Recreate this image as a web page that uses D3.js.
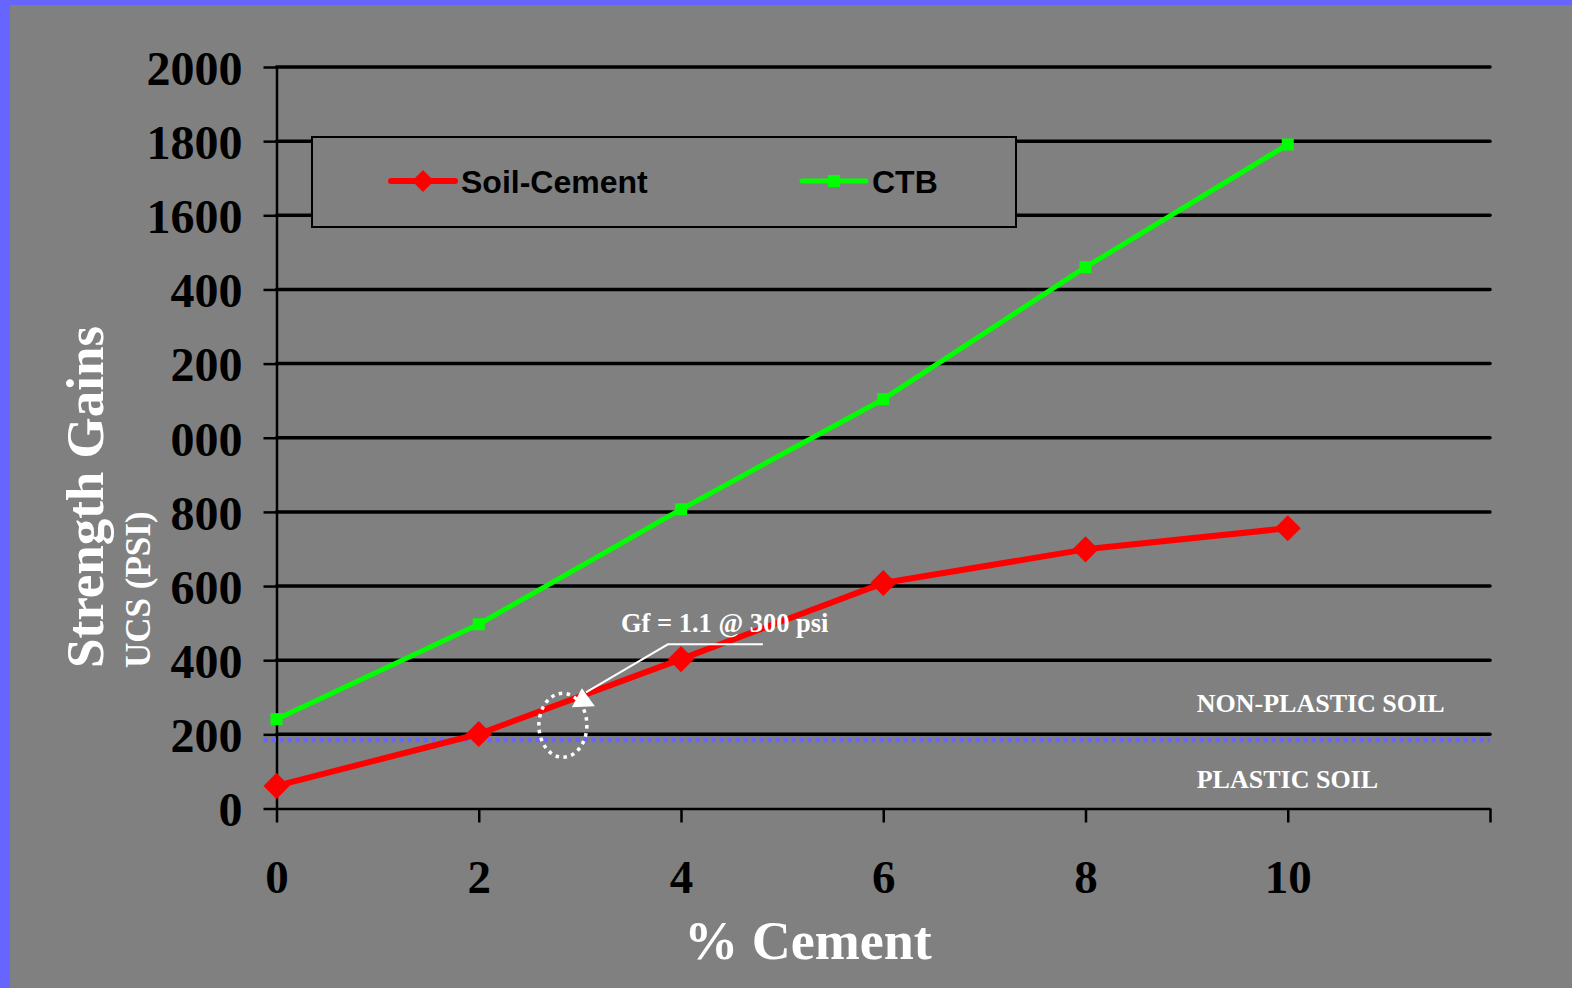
<!DOCTYPE html>
<html>
<head>
<meta charset="utf-8">
<script src="https://cdn.jsdelivr.net/npm/d3@7"></script>
<style>
  html, body { margin: 0; padding: 0; background: #808080; }
  svg { display: block; }
</style>
</head>
<body>
<svg id="chart" width="1572" height="988"></svg>
<script>
// Cement content (%) at which specimens were tested
const cementPct = [0, 2, 4, 6, 8, 10];
// Unconfined compressive strength gains (psi)
const soilCement = [61, 201, 403, 608, 699, 756];
const ctb = [241, 497, 807, 1104, 1460, 1791];

// Axis ticks and the labels printed beside them
const xTicks = [0, 2, 4, 6, 8, 10, 12];
const xTickLabels = ["0", "2", "4", "6", "8", "10", ""];
const yTicks = [0, 200, 400, 600, 800, 1000, 1200, 1400, 1600, 1800, 2000];
const yTickLabels = ["0", "200", "400", "600", "800", "000", "200", "400", "1600", "1800", "2000"];

// Plastic / non-plastic boundary (psi) and the annotated design point
const plasticLimit = 185;
const gfPoint = { x: 3, y: 300, label: "Gf = 1.1 @ 300 psi" };

const svg = d3.select("#chart");
const W = 1572, H = 988;

// Background and the blue frame along the left and top edges
svg.append("rect").attr("width", W).attr("height", H).attr("fill", "#808080");
svg.append("rect").attr("x", 0).attr("y", 0).attr("width", 10).attr("height", H).attr("fill", "#6666ff");
svg.append("rect").attr("x", 0).attr("y", 0).attr("width", W).attr("height", 5).attr("fill", "#6666ff");

const x = d3.scaleLinear().domain([0, 12]).range([276.5, 1490]);
const y = d3.scaleLinear().domain([0, 2000]).range([808.5, 67]);

const serif = "'Liberation Serif', 'Times New Roman', serif";
const sans = "'Liberation Sans', Arial, sans-serif";

// Horizontal gridlines
svg.append("g")
  .selectAll("line")
  .data(yTicks.filter(d => d > 0))
  .join("line")
  .attr("x1", x(0)).attr("x2", x(12))
  .attr("y1", d => y(d)).attr("y2", d => y(d))
  .attr("stroke", "#000").attr("stroke-width", 3.5).attr("stroke-linecap", "round");

// Y axis
const yAxis = svg.append("g")
  .attr("transform", `translate(${x(0)},0)`)
  .call(d3.axisLeft(y).tickValues(yTicks)
    .tickFormat((d, i) => yTickLabels[i])
    .tickSize(13).tickSizeOuter(0).tickPadding(21));
yAxis.select(".domain").attr("stroke", "#000").attr("stroke-width", 2.5);
yAxis.selectAll(".tick line").attr("stroke", "#000").attr("stroke-width", 2.5);
yAxis.selectAll(".tick text")
  .attr("fill", "#000").attr("font-family", serif).attr("font-weight", "bold")
  .attr("font-size", 48).attr("dy", "0.36em");

// X axis
const xAxis = svg.append("g")
  .attr("transform", `translate(0,${y(0)})`)
  .call(d3.axisBottom(x).tickValues(xTicks)
    .tickFormat((d, i) => xTickLabels[i])
    .tickSize(14).tickSizeOuter(0).tickPadding(37));
xAxis.select(".domain").attr("stroke", "#000").attr("stroke-width", 2.5);
xAxis.selectAll(".tick line").attr("stroke", "#000").attr("stroke-width", 2.5);
xAxis.selectAll(".tick text")
  .attr("fill", "#000").attr("font-family", serif).attr("font-weight", "bold")
  .attr("font-size", 47);

// Plastic soil boundary
svg.append("line")
  .attr("x1", x(0) - 13).attr("x2", x(12))
  .attr("y1", y(plasticLimit)).attr("y2", y(plasticLimit))
  .attr("stroke", "#6666ff").attr("stroke-width", 4.5).attr("stroke-dasharray", "4.5 3.5");

svg.append("text")
  .attr("x", x(9.1)).attr("y", y(plasticLimit) - 28)
  .attr("fill", "#fff").attr("font-family", serif).attr("font-weight", "bold")
  .attr("font-size", 26).text("NON-PLASTIC SOIL");
svg.append("text")
  .attr("x", x(9.1)).attr("y", y(plasticLimit) + 48)
  .attr("fill", "#fff").attr("font-family", serif).attr("font-weight", "bold")
  .attr("font-size", 26).text("PLASTIC SOIL");

// Series lines
const line = (vals) => d3.line()
  .x((d, i) => x(cementPct[i]))
  .y(d => y(d))(vals);

svg.append("path").attr("d", line(soilCement))
  .attr("fill", "none").attr("stroke", "#ff0000").attr("stroke-width", 6)
  .attr("stroke-linejoin", "round");
svg.append("path").attr("d", line(ctb))
  .attr("fill", "none").attr("stroke", "#00ff00").attr("stroke-width", 5)
  .attr("stroke-linejoin", "round");

// Markers
const diamond = d3.symbol().type(d3.symbolSquare).size(340);
svg.append("g").selectAll("path")
  .data(soilCement)
  .join("path")
  .attr("d", diamond)
  .attr("transform", (d, i) => `translate(${x(cementPct[i])},${y(d)}) rotate(45)`)
  .attr("fill", "#ff0000");

svg.append("g").selectAll("rect")
  .data(ctb)
  .join("rect")
  .attr("x", (d, i) => x(cementPct[i]) - 6)
  .attr("y", d => y(d) - 6)
  .attr("width", 12).attr("height", 12)
  .attr("fill", "#00ff00");

// Design point annotation: dotted ring, leader with arrowhead, label
const gx = x(gfPoint.x), gy = y(gfPoint.y);
svg.append("ellipse")
  .attr("cx", gx - 17).attr("cy", gy + 28)
  .attr("rx", 24).attr("ry", 32)
  .attr("fill", "none").attr("stroke", "#fff").attr("stroke-width", 3.5)
  .attr("stroke-dasharray", "3.5 4.5");

const elbowX = gx + 88, elbowY = gy - 53;
svg.append("polyline")
  .attr("points", `${gx + 6},${gy - 5} ${elbowX},${elbowY} ${elbowX + 95},${elbowY}`)
  .attr("fill", "none").attr("stroke", "#fff").attr("stroke-width", 2);
svg.append("path")
  .attr("d", `M${gx + 2},${gy - 9} L${gx - 8},${gy + 10} L${gx + 15},${gy + 9} Z`)
  .attr("fill", "#fff");

svg.append("text")
  .attr("x", gx + 41).attr("y", elbowY - 12)
  .attr("fill", "#fff").attr("font-family", serif).attr("font-weight", "bold")
  .attr("font-size", 26.5).text(gfPoint.label);

// Axis titles
svg.append("text")
  .attr("transform", `translate(103,668) rotate(-90)`)
  .attr("fill", "#fff").attr("font-family", serif).attr("font-weight", "bold")
  .attr("font-size", 53).text("Strength Gains");
svg.append("text")
  .attr("transform", `translate(150,668) rotate(-90)`)
  .attr("fill", "#fff").attr("font-family", serif).attr("font-weight", "bold")
  .attr("font-size", 35).text("UCS (PSI)");

svg.append("text")
  .attr("x", 808).attr("y", 959)
  .attr("text-anchor", "middle")
  .attr("fill", "#fff").attr("font-family", serif).attr("font-weight", "bold")
  .attr("font-size", 54).text("% Cement");

// Legend
const legend = svg.append("g");
legend.append("rect")
  .attr("x", 312).attr("y", 137).attr("width", 704).attr("height", 90)
  .attr("fill", "#808080").attr("stroke", "#000").attr("stroke-width", 2);

const legendItems = [
  { name: "Soil-Cement", color: "#ff0000", lx: 391, shape: "diamond" },
  { name: "CTB", color: "#00ff00", lx: 802, shape: "square" }
];
const ly = 181;
legendItems.forEach(it => {
  legend.append("line")
    .attr("x1", it.lx).attr("x2", it.lx + 64).attr("y1", ly).attr("y2", ly)
    .attr("stroke", it.color).attr("stroke-width", it.shape === "diamond" ? 6 : 5)
    .attr("stroke-linecap", "round");
  if (it.shape === "diamond") {
    legend.append("path")
      .attr("d", d3.symbol().type(d3.symbolSquare).size(240)())
      .attr("transform", `translate(${it.lx + 32},${ly}) rotate(45)`)
      .attr("fill", it.color);
  } else {
    legend.append("rect")
      .attr("x", it.lx + 26).attr("y", ly - 6).attr("width", 12).attr("height", 12)
      .attr("fill", it.color);
  }
  legend.append("text")
    .attr("x", it.lx + 70).attr("y", ly + 12)
    .attr("fill", "#000").attr("font-family", sans).attr("font-weight", "bold")
    .attr("font-size", 32).text(it.name);
});
</script>
</body>
</html>
